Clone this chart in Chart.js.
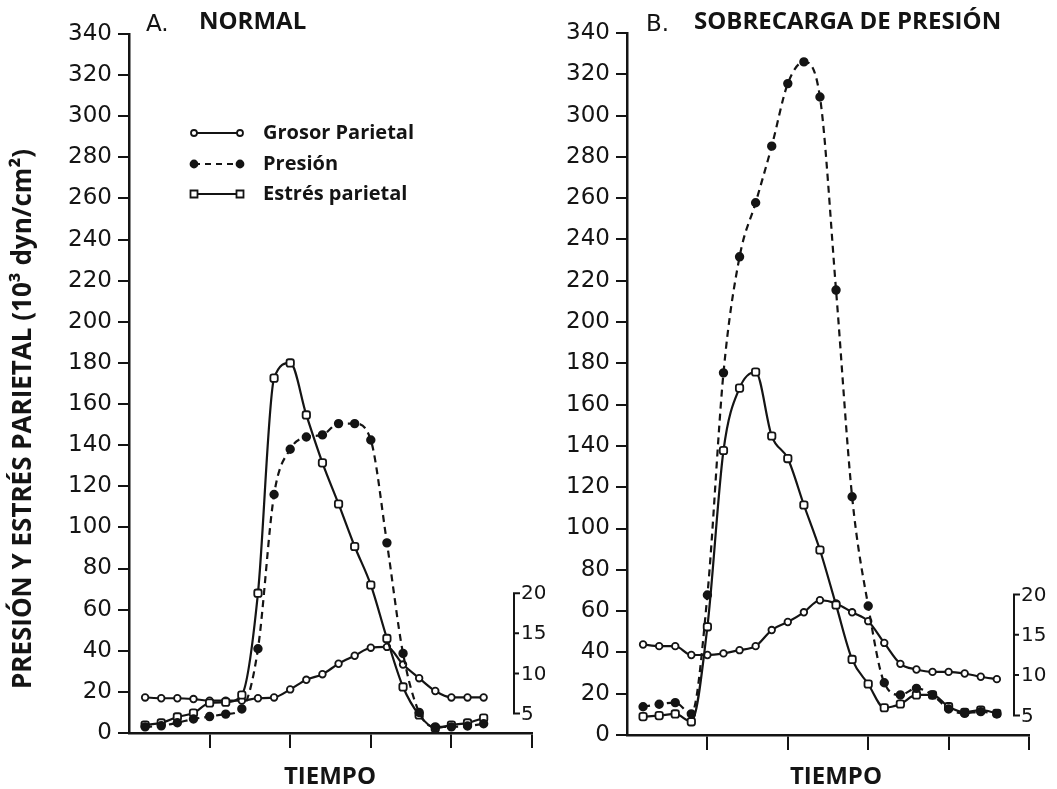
<!DOCTYPE html>
<html>
<head>
<meta charset="utf-8">
<script src="https://cdn.jsdelivr.net/npm/chart.js@4.4.1/dist/chart.umd.min.js"></script>
<style>
html, body { margin: 0; padding: 0; background: #fff; }
#wrap { position: relative; width: 1057px; height: 789px; overflow: hidden; }
canvas { position: absolute; top: 0; }
#cA { left: 0; }
#cB { left: 530px; }
</style>
</head>
<body>
<div id="wrap">
  <canvas id="cA" width="545" height="789"></canvas>
  <canvas id="cB" width="527" height="789"></canvas>
</div>
<script>
// ticks
const yTicks = [0, 20, 40, 60, 80, 100, 120, 140, 160, 180, 200, 220, 240, 260, 280, 300, 320, 340];
const xTicks = [4, 9, 14, 19, 24];
const grosorTicks = [5, 10, 15, 20];

// A. normal  (grosor en mm, eje derecho; presión y estrés en 10^3 dyn/cm2)
const grosorA = [7.0, 6.9, 6.9, 6.8, 6.6, 6.6, 6.6, 6.9, 7.0, 8.0, 9.2, 9.9, 11.2, 12.2, 13.2, 13.3, 11.1, 9.4, 7.8, 7.0, 7.0, 7.0];
const presionA = [3, 3.5, 5, 6.8, 8, 9.2, 11.7, 41, 116, 138, 144, 145, 150.5, 150.5, 142.5, 92.5, 38.7, 10, 3, 3, 3.4, 4.5];
const estresA = [3.9, 4.9, 7.8, 9.7, 14.6, 15, 18.5, 68, 172.6, 180, 154.7, 131.4, 111.4, 90.7, 72, 46, 22.4, 8.8, 2.4, 3.9, 4.9, 7.3];

// B. sobrecarga de presión
const grosorB = [13.8, 13.6, 13.6, 12.5, 12.5, 12.7, 13.1, 13.6, 15.6, 16.6, 17.8, 19.3, 18.9, 17.8, 16.7, 14.0, 11.4, 10.7, 10.4, 10.4, 10.2, 9.8, 9.5];
const presionB = [13.7, 14.9, 15.7, 10.2, 67.8, 175.4, 231.6, 257.8, 285.2, 315.5, 326, 309, 215.5, 115.4, 62.5, 25.3, 19.4, 22.6, 19.4, 12.6, 10.5, 11.3, 10.2];
const estresB = [8.9, 9.4, 10.2, 6.4, 52.4, 137.8, 168, 175.8, 144.8, 133.9, 111.4, 89.6, 63, 36.6, 24.7, 13.2, 15, 19.4, 19.4, 13.7, 11, 12.1, 10.5];

// el eje de grosor: 5 mm cae en 9.5 del eje izquierdo, 3.9 unidades por mm
const G_BASE = 9.5, G_STEP = 3.9;
const gMin = 5 - G_BASE / G_STEP;
const gMax = 5 + (340 - G_BASE) / G_STEP;

const INK = '#141414';
const toPts = arr => arr.map((v, i) => ({ x: i, y: v }));

const decor = {
    id: 'decor',
    afterDraw(chart, args, o) {
        const c = chart.ctx;
        const g = chart.scales.y2;
        c.save();
        c.fillStyle = INK;
        c.strokeStyle = INK;
        c.textAlign = 'left';
        c.textBaseline = 'alphabetic';
        c.font = '23px "DejaVu Sans"';
        c.fillText(o.letter, o.letterX, 31);
        c.font = 'bold 24px "Open Sans"';
        c.fillText(o.heading, o.headingX, 29);
        c.textAlign = 'center';
        c.fillText('TIEMPO', o.tiempoX, 784);

        // eje de grosor en forma de corchete
        const top = g.getPixelForValue(20), bot = g.getPixelForValue(5);
        c.lineWidth = 2;
        c.beginPath();
        c.moveTo(o.bracketX + 6, top); c.lineTo(o.bracketX, top);
        c.lineTo(o.bracketX, bot); c.lineTo(o.bracketX + 6, bot);
        grosorTicks.slice(1, -1).forEach(v => {
            const y = g.getPixelForValue(v);
            c.moveTo(o.bracketX, y); c.lineTo(o.bracketX + 5, y);
        });
        c.stroke();
        c.font = '20px "DejaVu Sans"';
        c.textAlign = 'left';
        c.textBaseline = 'middle';
        grosorTicks.forEach(v => c.fillText(String(v), o.bracketX + 7, g.getPixelForValue(v) + 1));

        if (o.legend) {
            const rows = [
                { y: 133, label: 'Grosor Parietal', dash: [], mark: 'circle' },
                { y: 164, label: 'Presión', dash: [6, 5], mark: 'dot' },
                { y: 194, label: 'Estrés parietal', dash: [], mark: 'square' }
            ];
            rows.forEach(r => {
                c.lineWidth = 2;
                c.setLineDash(r.dash);
                c.beginPath(); c.moveTo(194, r.y); c.lineTo(240, r.y); c.stroke();
                c.setLineDash([]);
                [194, 240].forEach(x => {
                    c.beginPath();
                    if (r.mark === 'square') c.rect(x - 3.5, r.y - 3.5, 7, 7);
                    else c.arc(x, r.y, r.mark === 'dot' ? 3.5 : 3, 0, Math.PI * 2);
                    c.fillStyle = r.mark === 'dot' ? INK : '#fff';
                    c.fill();
                    c.lineWidth = 1.8;
                    c.stroke();
                });
                c.fillStyle = INK;
                c.font = 'bold 20px "Open Sans"';
                c.textAlign = 'left';
                c.textBaseline = 'middle';
                c.fillText(r.label, 263, r.y);
            });

            c.save();
            c.translate(24, 419);
            c.rotate(-Math.PI / 2);
            c.textAlign = 'center';
            c.textBaseline = 'middle';
            c.font = 'bold 26px "Open Sans"';
            c.fillText('PRESIÓN Y ESTRÉS PARIETAL (10³ dyn/cm²)', 0, 0);
            c.restore();
        }
        c.restore();
    }
};

function makePanel(id, cfg) {
    const base = { borderColor: INK, borderWidth: 2.2, pointBorderColor: INK, pointBorderWidth: 1.8,
        cubicInterpolationMode: 'monotone', fill: false };
    return new Chart(document.getElementById(id), {
        type: 'line',
        data: {
            datasets: [
                { ...base, label: 'Presión', data: toPts(cfg.presion), borderDash: [7, 5],
                  pointStyle: 'circle', pointRadius: 3.8, pointBackgroundColor: INK },
                { ...base, label: 'Estrés parietal', data: toPts(cfg.estres),
                  pointStyle: 'rectRounded', pointRadius: 4.3, pointBackgroundColor: '#fff' },
                { ...base, label: 'Grosor Parietal', data: toPts(cfg.grosor), yAxisID: 'y2',
                  pointStyle: 'circle', pointRadius: 3.3, pointBackgroundColor: '#fff' }
            ]
        },
        options: {
            responsive: false,
            animation: false,
            devicePixelRatio: 1,
            layout: { padding: { top: cfg.top, right: cfg.padRight, left: 0, bottom: 0 } },
            plugins: { legend: { display: false }, tooltip: { enabled: false }, decor: cfg.decor },
            scales: {
                x: {
                    type: 'linear', min: -1, max: 24,
                    afterBuildTicks: s => { s.ticks = xTicks.map(v => ({ value: v })); },
                    afterFit: s => { s.height = cfg.xAxisH; },
                    grid: { drawOnChartArea: false, drawTicks: true, tickLength: 15, color: INK, lineWidth: 2 },
                    border: { display: true, color: INK, width: 2.5 },
                    ticks: { callback: () => '' }
                },
                y: {
                    min: 0, max: 340,
                    afterBuildTicks: s => { s.ticks = yTicks.map(v => ({ value: v })); },
                    afterFit: s => { s.width = cfg.yAxisW; },
                    grid: { drawOnChartArea: false, drawTicks: true, tickLength: 11, color: INK, lineWidth: 2 },
                    border: { display: true, color: INK, width: 2.5 },
                    ticks: { color: INK, padding: 6, font: { family: 'DejaVu Sans', size: 23 } }
                },
                y2: { display: false, min: gMin, max: gMax }
            }
        },
        plugins: [decor]
    });
}

makePanel('cA', {
    grosor: grosorA, presion: presionA, estres: estresA,
    top: 34, padRight: 13, xAxisH: 56, yAxisW: 129,
    decor: { letter: 'A.', letterX: 146, heading: 'NORMAL', headingX: 199, tiempoX: 330, bracketX: 514, legend: true }
});
makePanel('cB', {
    grosor: grosorB, presion: presionB, estres: estresB,
    top: 33, padRight: 28, xAxisH: 54, yAxisW: 97,
    decor: { letter: 'B.', letterX: 116, heading: 'SOBRECARGA DE PRESIÓN', headingX: 164, tiempoX: 306, bracketX: 484, legend: false }
});
</script>
</body>
</html>
